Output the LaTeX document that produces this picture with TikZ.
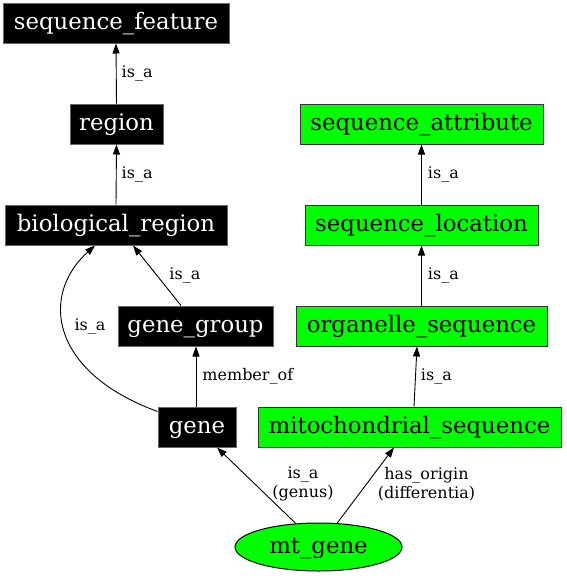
\documentclass[tikz,border=0pt]{standalone}
\usepackage{fontspec}
\setmainfont{DejaVu Serif}
\usetikzlibrary{shapes.geometric,arrows.meta}
\definecolor{gvgreen}{HTML}{00FF00}
\begin{document}
\begin{tikzpicture}[x=1pt,y=-1pt,
  nodefont/.style={font=\fontsize{22.8}{26}\selectfont, text height=17pt, text depth=5pt},
  lblfont/.style={font=\fontsize{16}{18.5}\selectfont},
  blackbox/.style={rectangle, fill=black, draw=black!60, line width=1pt, text=white, minimum height=40pt, inner sep=0pt, nodefont},
  greenbox/.style={rectangle, fill=gvgreen, draw=black!80, line width=1pt, text=black, minimum height=40pt, inner sep=0pt, nodefont},
  edge/.style={line width=0.9pt, -{Triangle[length=10pt,width=7pt]}},
  lbl/.style={lblfont, inner sep=0pt, align=center}
]
\useasboundingbox (0,0) rectangle (567,576);
\node[blackbox, minimum width=226pt] (sequence_feature) at (116,23) {sequence\_feature};
\node[blackbox, minimum width=93pt] (region) at (116.5,124) {region};
\node[blackbox, minimum width=222pt] (biological_region) at (116,225) {biological\_region};
\node[blackbox, minimum width=155pt] (gene_group) at (195.5,326) {gene\_group};
\node[blackbox, minimum width=78pt] (gene) at (197,427) {gene};
\node[greenbox, minimum width=243pt] (sequence_attribute) at (421.5,124) {sequence\_attribute};
\node[greenbox, minimum width=233pt] (sequence_location) at (421.5,225) {sequence\_location};
\node[greenbox, minimum width=251pt] (organelle_sequence) at (421.5,326) {organelle\_sequence};
\node[greenbox, minimum width=303pt] (mitochondrial_sequence) at (409.5,427) {mitochondrial\_sequence};
\node[ellipse, fill=gvgreen, draw=black, line width=1pt, minimum width=167pt, minimum height=48pt, inner sep=0pt, nodefont] (mt_gene) at (318.5,547) {mt\_gene};

\draw[edge] (region.north) -- (sequence_feature.south) node[lbl, midway, anchor=west, xshift=5pt] {is\_a};
\draw[edge] (biological_region.north) -- (region.south) node[lbl, midway, anchor=west, xshift=5pt] {is\_a};
\draw[edge] ([xshift=-14.5pt]gene_group.north) -- ([xshift=17pt]biological_region.south) node[lbl, midway, anchor=west, xshift=12pt] {is\_a};
\draw[edge] ([yshift=-5pt]gene.north west) .. controls (50,372) and (40,295) .. ([xshift=-21pt]biological_region.south);
\node[lbl] (lbl_curve) at (90,326) {is\_a};
\draw[edge] ([xshift=-1pt]gene.north) -- ([xshift=0.5pt]gene_group.south) node[lbl, midway, anchor=west, xshift=6pt] {member\_of};
\draw[edge] (sequence_location.north) -- (sequence_attribute.south) node[lbl, midway, anchor=west, xshift=6pt] {is\_a};
\draw[edge] (organelle_sequence.north) -- (sequence_location.south) node[lbl, midway, anchor=west, xshift=6pt] {is\_a};
\draw[edge] ([xshift=4.5pt]mitochondrial_sequence.north) -- ([xshift=-4.5pt]organelle_sequence.south) node[lbl, midway, anchor=west, xshift=5pt] {is\_a};
\draw[edge] (mt_gene.134) -- ([xshift=20pt]gene.south);
\draw[edge] (mt_gene.52) -- ([xshift=-15.5pt]mitochondrial_sequence.south);
\node[lbl] (lbl_genus) at (303,484) {is\_a\\(genus)};
\node[lbl] (lbl_diff) at (426.5,484) {has\_origin\\(differentia)};
\end{tikzpicture}
\end{document}
